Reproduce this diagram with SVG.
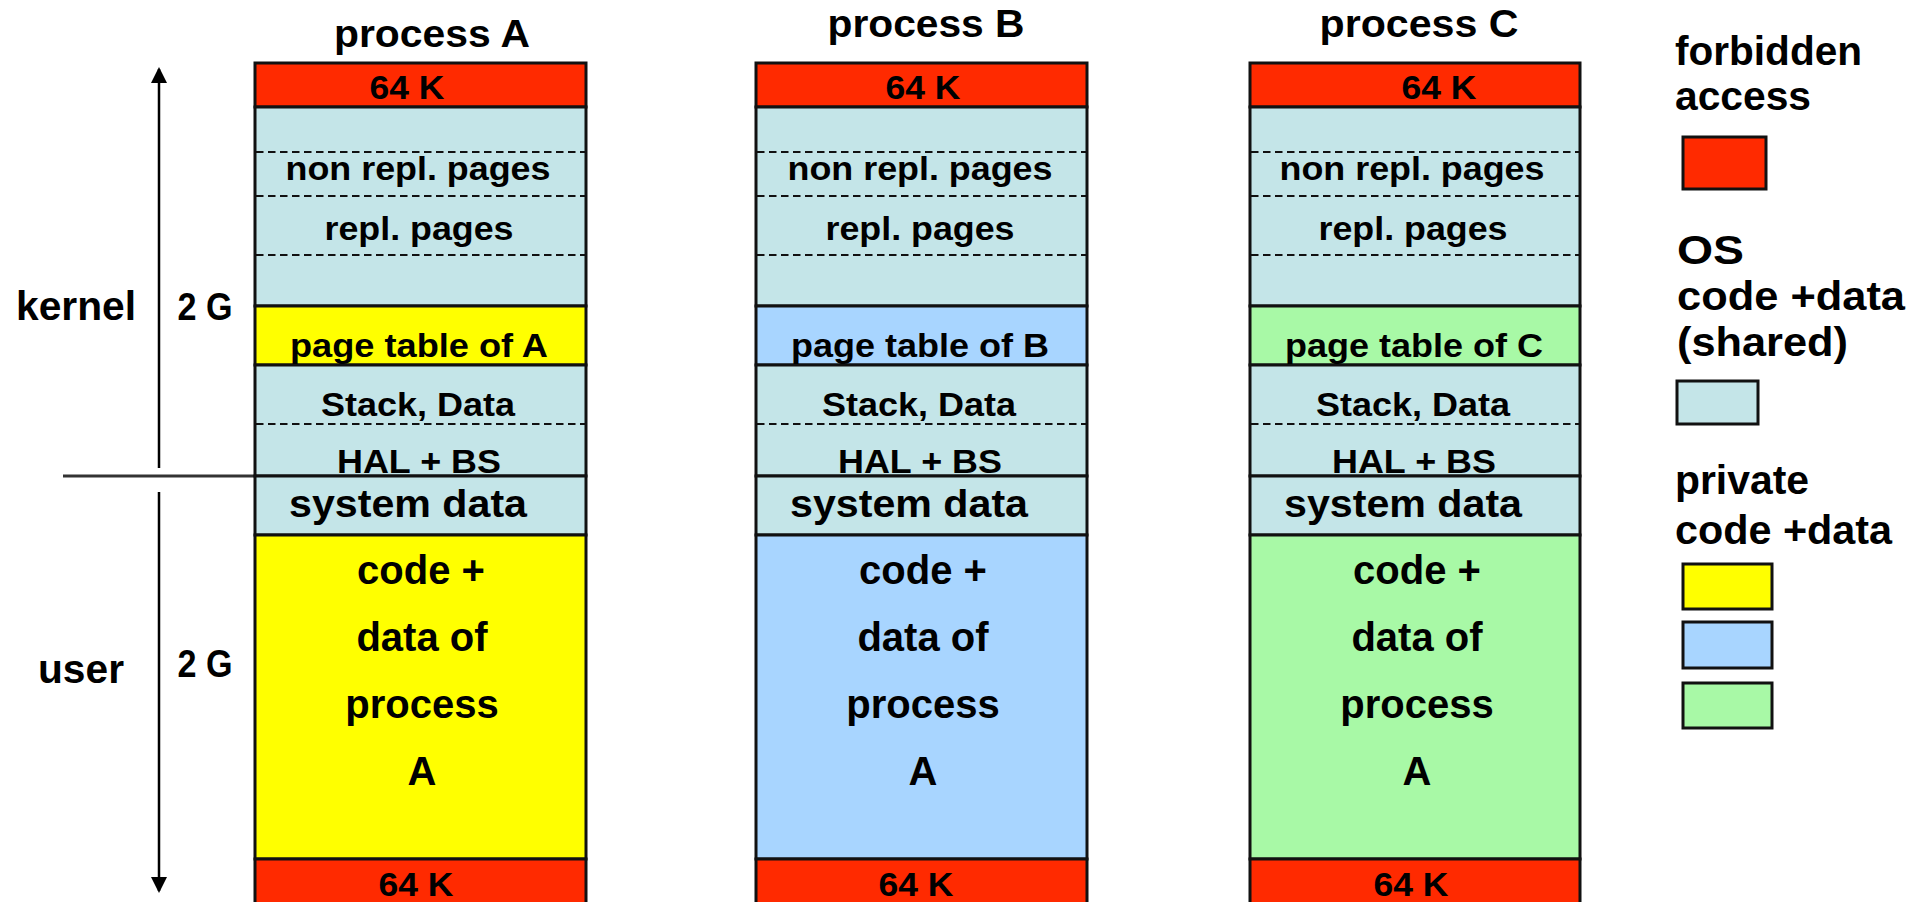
<svg xmlns="http://www.w3.org/2000/svg" width="1925" height="902" viewBox="0 0 1925 902">
<style>
text{font-family:"Liberation Sans",Arial,sans-serif;font-weight:bold;fill:#000;text-anchor:middle}
.t{font-size:38px}
.s{font-size:33px}
.m{font-size:39px}
.l{font-size:40px}
.lg{font-size:41px;text-anchor:start}
.band{stroke:#111;stroke-width:3}
.red{fill:#FF2A00}
.os{fill:#C4E5E8}
.ya{fill:#FFFF00}
.yb{fill:#A8D5FF}
.yc{fill:#A8F9A6}
.dash{stroke:#111;stroke-width:2;stroke-dasharray:7.5 4.5;fill:none}
.axis{stroke:#000;stroke-width:2.5;fill:none}
</style>
<defs>
<marker id="ah" markerWidth="16" markerHeight="16" refX="14" refY="8" orient="auto" markerUnits="userSpaceOnUse">
<path d="M0,0 L16,8 L0,16 Z" fill="#000"/>
</marker>
</defs>

<g id="connectors">
<line class="axis" x1="159" y1="468" x2="159" y2="69" marker-end="url(#ah)"/>
<line class="axis" x1="159" y1="492" x2="159" y2="891" marker-end="url(#ah)"/>
<line x1="63" y1="476" x2="255" y2="476" stroke="#333" stroke-width="3"/>
</g>

<g id="axis-labels">
<text class="l" x="76" y="320" textLength="120" lengthAdjust="spacingAndGlyphs">kernel</text>
<text class="t" x="205" y="320" textLength="55" lengthAdjust="spacingAndGlyphs">2 G</text>
<text class="l" x="81" y="683" textLength="86" lengthAdjust="spacingAndGlyphs">user</text>
<text class="t" x="205" y="677" textLength="55" lengthAdjust="spacingAndGlyphs">2 G</text>
</g>

<g id="processA">
<text class="t" x="432" y="47" textLength="196" lengthAdjust="spacingAndGlyphs">process A</text>
<rect class="band red" x="255" y="63" width="331" height="44"/>
<rect class="band os" x="255" y="107" width="331" height="199"/>
<rect class="band ya" x="255" y="306" width="331" height="59"/>
<rect class="band os" x="255" y="365" width="331" height="111"/>
<rect class="band os" x="255" y="476" width="331" height="59"/>
<rect class="band ya" x="255" y="535" width="331" height="324"/>
<rect class="band red" x="255" y="859" width="331" height="50"/>
<line class="dash" x1="256" y1="152" x2="585" y2="152"/>
<line class="dash" x1="256" y1="196" x2="585" y2="196"/>
<line class="dash" x1="256" y1="255" x2="585" y2="255"/>
<line class="dash" x1="256" y1="424" x2="585" y2="424"/>
<text class="s" x="407" y="99" textLength="75" lengthAdjust="spacingAndGlyphs">64 K</text>
<text class="s" x="418" y="180" textLength="265" lengthAdjust="spacingAndGlyphs">non repl. pages</text>
<text class="s" x="419" y="240" textLength="189" lengthAdjust="spacingAndGlyphs">repl. pages</text>
<text class="s" x="419" y="357" textLength="258" lengthAdjust="spacingAndGlyphs">page table of A</text>
<text class="s" x="418" y="416" textLength="194" lengthAdjust="spacingAndGlyphs">Stack, Data</text>
<text class="s" x="419" y="473" textLength="164" lengthAdjust="spacingAndGlyphs">HAL + BS</text>
<text class="m" x="408" y="517" textLength="238" lengthAdjust="spacingAndGlyphs">system data</text>
<text class="l" x="421" y="584">code +</text>
<text class="l" x="422" y="651">data of</text>
<text class="l" x="422" y="718">process</text>
<text class="l" x="422" y="785">A</text>
<text class="s" x="416" y="896" textLength="75" lengthAdjust="spacingAndGlyphs">64 K</text>
</g>

<g id="processB">
<text class="t" x="926" y="37" textLength="197" lengthAdjust="spacingAndGlyphs">process B</text>
<rect class="band red" x="756" y="63" width="331" height="44"/>
<rect class="band os" x="756" y="107" width="331" height="199"/>
<rect class="band yb" x="756" y="306" width="331" height="59"/>
<rect class="band os" x="756" y="365" width="331" height="111"/>
<rect class="band os" x="756" y="476" width="331" height="59"/>
<rect class="band yb" x="756" y="535" width="331" height="324"/>
<rect class="band red" x="756" y="859" width="331" height="50"/>
<line class="dash" x1="757" y1="152" x2="1086" y2="152"/>
<line class="dash" x1="757" y1="196" x2="1086" y2="196"/>
<line class="dash" x1="757" y1="255" x2="1086" y2="255"/>
<line class="dash" x1="757" y1="424" x2="1086" y2="424"/>
<text class="s" x="923" y="99" textLength="75" lengthAdjust="spacingAndGlyphs">64 K</text>
<text class="s" x="920" y="180" textLength="265" lengthAdjust="spacingAndGlyphs">non repl. pages</text>
<text class="s" x="920" y="240" textLength="189" lengthAdjust="spacingAndGlyphs">repl. pages</text>
<text class="s" x="920" y="357" textLength="258" lengthAdjust="spacingAndGlyphs">page table of B</text>
<text class="s" x="919" y="416" textLength="194" lengthAdjust="spacingAndGlyphs">Stack, Data</text>
<text class="s" x="920" y="473" textLength="164" lengthAdjust="spacingAndGlyphs">HAL + BS</text>
<text class="m" x="909" y="517" textLength="238" lengthAdjust="spacingAndGlyphs">system data</text>
<text class="l" x="923" y="584">code +</text>
<text class="l" x="923" y="651">data of</text>
<text class="l" x="923" y="718">process</text>
<text class="l" x="923" y="785">A</text>
<text class="s" x="916" y="896" textLength="75" lengthAdjust="spacingAndGlyphs">64 K</text>
</g>

<g id="processC">
<text class="t" x="1419" y="37" textLength="199" lengthAdjust="spacingAndGlyphs">process C</text>
<rect class="band red" x="1250" y="63" width="330" height="44"/>
<rect class="band os" x="1250" y="107" width="330" height="199"/>
<rect class="band yc" x="1250" y="306" width="330" height="59"/>
<rect class="band os" x="1250" y="365" width="330" height="111"/>
<rect class="band os" x="1250" y="476" width="330" height="59"/>
<rect class="band yc" x="1250" y="535" width="330" height="324"/>
<rect class="band red" x="1250" y="859" width="330" height="50"/>
<line class="dash" x1="1251" y1="152" x2="1579" y2="152"/>
<line class="dash" x1="1251" y1="196" x2="1579" y2="196"/>
<line class="dash" x1="1251" y1="255" x2="1579" y2="255"/>
<line class="dash" x1="1251" y1="424" x2="1579" y2="424"/>
<text class="s" x="1439" y="99" textLength="75" lengthAdjust="spacingAndGlyphs">64 K</text>
<text class="s" x="1412" y="180" textLength="265" lengthAdjust="spacingAndGlyphs">non repl. pages</text>
<text class="s" x="1413" y="240" textLength="189" lengthAdjust="spacingAndGlyphs">repl. pages</text>
<text class="s" x="1414" y="357" textLength="258" lengthAdjust="spacingAndGlyphs">page table of C</text>
<text class="s" x="1413" y="416" textLength="194" lengthAdjust="spacingAndGlyphs">Stack, Data</text>
<text class="s" x="1414" y="473" textLength="164" lengthAdjust="spacingAndGlyphs">HAL + BS</text>
<text class="m" x="1403" y="517" textLength="238" lengthAdjust="spacingAndGlyphs">system data</text>
<text class="l" x="1417" y="584">code +</text>
<text class="l" x="1417" y="651">data of</text>
<text class="l" x="1417" y="718">process</text>
<text class="l" x="1417" y="785">A</text>
<text class="s" x="1411" y="896" textLength="75" lengthAdjust="spacingAndGlyphs">64 K</text>
</g>

<g id="legend-forbidden">
<text class="lg" x="1675" y="65" textLength="187" lengthAdjust="spacingAndGlyphs">forbidden</text>
<text class="lg" x="1675" y="110" textLength="136" lengthAdjust="spacingAndGlyphs">access</text>
<rect class="band red" x="1683" y="137" width="83" height="52"/>
</g>
<g id="legend-shared">
<text class="lg" x="1677" y="264" textLength="67" lengthAdjust="spacingAndGlyphs">OS</text>
<text class="lg" x="1677" y="310" textLength="228" lengthAdjust="spacingAndGlyphs">code +data</text>
<text class="lg" x="1677" y="356" textLength="171" lengthAdjust="spacingAndGlyphs">(shared)</text>
<rect class="band os" x="1677" y="381" width="81" height="43"/>
</g>
<g id="legend-private">
<text class="lg" x="1675" y="494" textLength="134" lengthAdjust="spacingAndGlyphs">private</text>
<text class="lg" x="1675" y="544" textLength="217" lengthAdjust="spacingAndGlyphs">code +data</text>
<rect class="band ya" x="1683" y="564" width="89" height="45"/>
<rect class="band yb" x="1683" y="622" width="89" height="46"/>
<rect class="band yc" x="1683" y="683" width="89" height="45"/>
</g>
</svg>
